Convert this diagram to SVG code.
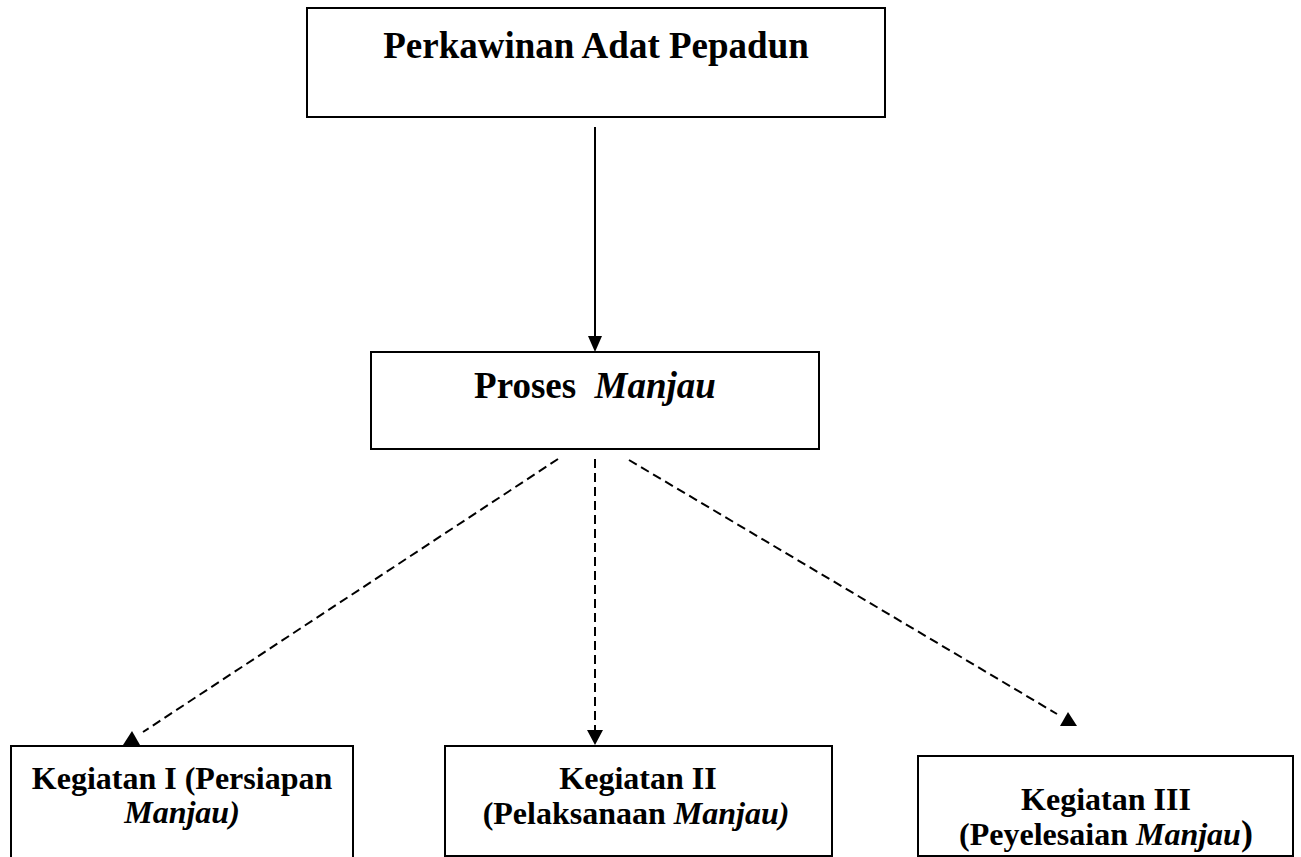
<svg xmlns="http://www.w3.org/2000/svg" width="1301" height="857" viewBox="0 0 1301 857">
<style>
.box{fill:#fff;stroke:#000;stroke-width:2}
.t{font-family:"Liberation Serif","Times New Roman",serif;font-weight:bold;fill:#000;text-anchor:middle}
.big{font-size:37px}
.sm{font-size:32px}
.it{font-style:italic}
.solid{stroke:#000;stroke-width:2;fill:none}
.dash{stroke:#000;stroke-width:2;fill:none;stroke-dasharray:9 5}
.head{fill:#000;stroke:none}
</style>
<rect width="1301" height="857" fill="#fff"/>
<g id="connectors">
<line class="solid" x1="595" y1="127" x2="595" y2="338"/>
<polygon class="head" points="595,352 588,336 602,336"/>
<line class="dash" x1="558" y1="459" x2="143" y2="732"/>
<polygon class="head" points="132,731 123,745 140,745"/>
<line class="dash" x1="595" y1="459" x2="595" y2="731"/>
<polygon class="head" points="595,745 587,730 603,730"/>
<line class="dash" x1="629" y1="460" x2="1057" y2="714"/>
<polygon class="head" points="1068,712 1060,726 1077,726"/>
</g>
<g id="node-perkawinan">
<rect class="box" x="307" y="8" width="578" height="109"/>
<text class="t big" x="596" y="58">Perkawinan Adat Pepadun</text>
</g>
<g id="node-proses">
<rect class="box" x="371" y="352" width="448" height="97"/>
<text class="t big" x="595" y="398" xml:space="preserve">Proses  <tspan class="it">Manjau</tspan></text>
</g>
<g id="node-kegiatan1">
<rect class="box" x="11" y="746" width="342" height="120"/>
<text class="t sm" x="182" y="789">Kegiatan I (Persiapan</text>
<text class="t sm it" x="182" y="823">Manjau)</text>
</g>
<g id="node-kegiatan2">
<rect class="box" x="445" y="746" width="387" height="110"/>
<text class="t sm" x="638" y="789">Kegiatan II</text>
<text class="t sm" x="636" y="824">(Pelaksanaan <tspan class="it">Manjau)</tspan></text>
</g>
<g id="node-kegiatan3">
<rect class="box" x="918" y="756" width="375" height="100"/>
<text class="t sm" x="1106" y="810">Kegiatan III</text>
<text class="t sm" x="1106" y="845">(Peyelesaian <tspan class="it">Manjau</tspan><tspan font-size="36">)</tspan></text>
</g>
</svg>
